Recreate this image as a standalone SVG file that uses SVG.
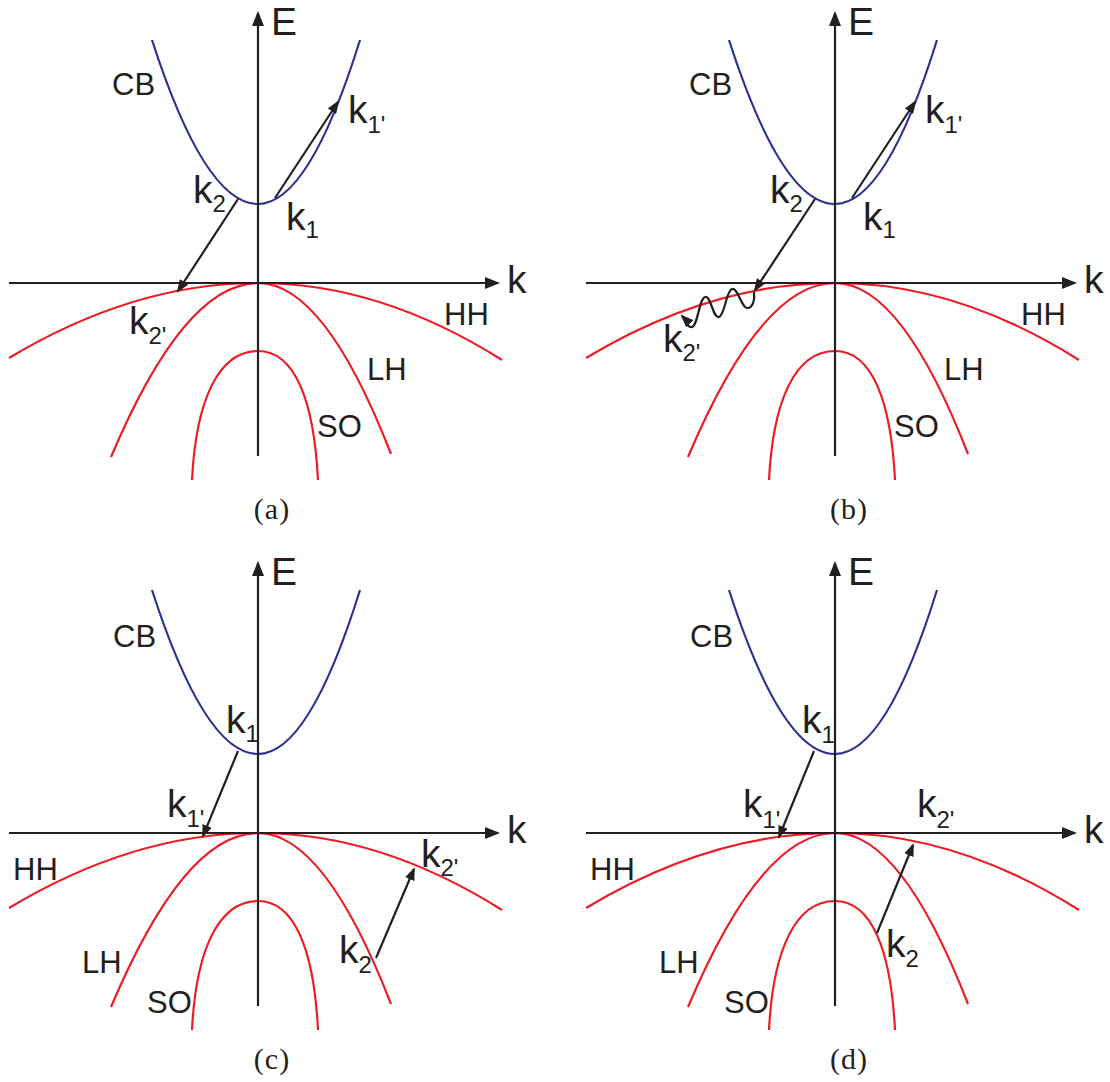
<svg xmlns="http://www.w3.org/2000/svg" xmlns:xlink="http://www.w3.org/1999/xlink" width="1110" height="1082" viewBox="0 0 1110 1082">
<style>
.ax{stroke:#231f20;stroke-width:2.2;fill:none}
.cb{stroke:#2e3192;stroke-width:2.2;fill:none}
.vb{stroke:#ed1c24;stroke-width:2.2;fill:none}
.ar{stroke:#231f20;stroke-width:2.2;fill:none;marker-end:url(#ah)}
.lbl{font-family:"Liberation Sans",Arial,sans-serif;fill:#231f20}
.big{font-size:39px}
.band{font-size:31px}
.sub{font-size:24px}
.cap{font-family:"Liberation Serif","Times New Roman",serif;font-size:30px;fill:#231f20;text-anchor:middle;letter-spacing:1px}
</style>
<defs>
<marker id="axh" markerUnits="userSpaceOnUse" markerWidth="15" markerHeight="12" refX="13" refY="6" orient="auto"><path d="M0,0 L15,6 L0,12 z" fill="#231f20"/></marker>
<marker id="ah" markerUnits="userSpaceOnUse" markerWidth="13" markerHeight="10" refX="11" refY="5" orient="auto"><path d="M0,0 L13,5 L0,10 z" fill="#231f20"/></marker>
<g id="bands">
<path class="cb" d="M152,40 Q205,204 258,204 Q309,204 360,40"/>
<path class="vb" d="M9,358 Q134,283 258,283 Q380,283 502,360"/>
<path class="vb" d="M111,457 Q184.5,283 258,283 Q324.5,283 391,454"/>
<path class="vb" d="M192,480 C196,401 218,351 258,351 C295,351 314,401 318,480"/>
<line class="ax" x1="258" y1="456" x2="258" y2="13" marker-end="url(#axh)"/>
<line class="ax" x1="9" y1="283" x2="498" y2="283" marker-end="url(#axh)"/>
</g>
</defs>

<g id="panel-a">
<use xlink:href="#bands" href="#bands"/>
<text class="lbl big" x="271" y="35">E</text>
<text class="lbl big" x="507" y="293">k</text>
<text class="lbl band" x="112" y="95">CB</text>
<text class="lbl band" x="444" y="325">HH</text>
<text class="lbl band" x="367" y="380">LH</text>
<text class="lbl band" x="317" y="437">SO</text>
<text class="lbl big" x="193" y="203">k<tspan class="sub" dy="9">2</tspan></text>
<text class="lbl big" x="286" y="230">k<tspan class="sub" dy="8">1</tspan></text>
<text class="lbl big" x="348" y="123">k<tspan class="sub" dy="10">1'</tspan></text>
<text class="lbl big" x="129" y="334">k<tspan class="sub" dy="10">2'</tspan></text>
<text class="cap" x="272" y="519">(a)</text>
</g>

<g id="panel-b">
<use xlink:href="#bands" href="#bands" transform="translate(577,0)"/>
<text class="lbl big" x="848" y="35">E</text>
<text class="lbl big" x="1084" y="293">k</text>
<text class="lbl band" x="689" y="95">CB</text>
<text class="lbl band" x="1021" y="325">HH</text>
<text class="lbl band" x="944" y="380">LH</text>
<text class="lbl band" x="894" y="437">SO</text>
<text class="lbl big" x="770" y="203">k<tspan class="sub" dy="9">2</tspan></text>
<text class="lbl big" x="863" y="230">k<tspan class="sub" dy="8">1</tspan></text>
<text class="lbl big" x="925" y="123">k<tspan class="sub" dy="10">1'</tspan></text>
<text class="lbl big" x="663" y="352">k<tspan class="sub" dy="9">2'</tspan></text>
<text class="cap" x="849" y="519">(b)</text>
</g>

<g id="panel-c">
<use xlink:href="#bands" href="#bands" transform="translate(0,550)"/>
<text class="lbl big" x="271" y="585">E</text>
<text class="lbl big" x="507" y="843">k</text>
<text class="lbl band" x="113" y="647">CB</text>
<text class="lbl band" x="13" y="880">HH</text>
<text class="lbl band" x="82" y="973">LH</text>
<text class="lbl band" x="147" y="1013">SO</text>
<text class="lbl big" x="226" y="733">k<tspan class="sub" dy="9">1</tspan></text>
<text class="lbl big" x="167" y="817">k<tspan class="sub" dy="10">1'</tspan></text>
<text class="lbl big" x="421" y="867">k<tspan class="sub" dy="9">2'</tspan></text>
<text class="lbl big" x="339" y="963">k<tspan class="sub" dy="10">2</tspan></text>
<text class="cap" x="272" y="1069">(c)</text>
</g>

<g id="panel-d">
<use xlink:href="#bands" href="#bands" transform="translate(577,550)"/>
<text class="lbl big" x="848" y="585">E</text>
<text class="lbl big" x="1084" y="843">k</text>
<text class="lbl band" x="690" y="647">CB</text>
<text class="lbl band" x="590" y="880">HH</text>
<text class="lbl band" x="659" y="973">LH</text>
<text class="lbl band" x="724" y="1013">SO</text>
<text class="lbl big" x="802" y="733">k<tspan class="sub" dy="10">1</tspan></text>
<text class="lbl big" x="743" y="817">k<tspan class="sub" dy="11">1'</tspan></text>
<text class="lbl big" x="917" y="817">k<tspan class="sub" dy="11">2'</tspan></text>
<text class="lbl big" x="886" y="957">k<tspan class="sub" dy="10">2</tspan></text>
<text class="cap" x="849" y="1069">(d)</text>
</g>

<g id="connectors">
<line class="ar" x1="275" y1="198" x2="338" y2="102"/>
<line class="ar" x1="238" y1="199" x2="178" y2="291"/>
<line class="ar" x1="852" y1="198" x2="915" y2="102"/>
<line class="ar" x1="815" y1="199" x2="755" y2="290"/>
<path class="ar" d="M754,292 C755,300 753,307 748,308 C742,310 738,287 732,289 C726,291 725,315 719,317 C713,319 711,295 705,297 C699,299 698,325 692,327 C687,328 686,320 682,316"/>
<line class="ar" x1="238" y1="751" x2="203" y2="836"/>
<line class="ar" x1="376" y1="958" x2="414" y2="869"/>
<line class="ar" x1="814" y1="751" x2="779" y2="837"/>
<line class="ar" x1="877" y1="933" x2="913" y2="845"/>
</g>
</svg>
